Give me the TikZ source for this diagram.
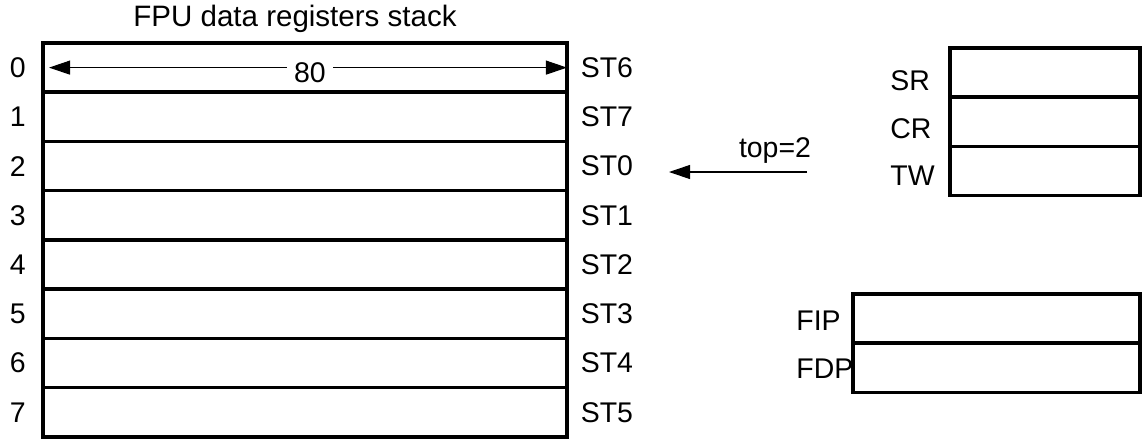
\documentclass[tikz,border=0pt]{standalone}
\usepackage{fontspec}
\setmainfont{Liberation Sans}
\usetikzlibrary{positioning, arrows.meta}

\begin{document}
\begin{tikzpicture}[x=0.02cm, y=-0.02cm,
		>={Triangle[length=0.42cm, width=0.28cm]},
		regbox/.style={draw, line width=2pt, minimum width=#1, minimum height=0.985cm, inner sep=0pt, outer sep=0pt},
		lbl/.style={inner sep=0pt, font=\fontsize{16.2}{18}\selectfont},
		thin/.style={line width=0.6pt}]
		\useasboundingbox (0,0) rectangle (1146,444);
		
		% Define the nodes
		\node (title) [inner sep=0pt, font=\fontsize{16.8}{20}\selectfont] at (295,19) {FPU data registers stack};
		
		\node (r0) [regbox=10.48cm] at (305,67.6) {};
		\foreach \i [remember=\i as \j (initially 0)] in {1,...,7}
			\node (r\i) [regbox=10.48cm, below=0pt of r\j] {};
		\foreach \i/\st in {0/ST6,1/ST7,2/ST0,3/ST1,4/ST2,5/ST3,6/ST4,7/ST5}{
			\node (n\i) [lbl, left=0.34cm of r\i] {\i};
			\node (st\i) [lbl, right=0.27cm of r\i] {\st};
		}
		
		\node (sr) [regbox=3.8cm] at (1045,72.6) {};
		\node (cr) [regbox=3.8cm, below=0pt of sr] {};
		\node (tw) [regbox=3.8cm, below=0pt of cr] {};
		\node (srname) [lbl, anchor=west] at (890,81) {SR};
		\node (crname) [lbl, anchor=west] at (890,129) {CR};
		\node (twname) [lbl, anchor=west] at (890,176) {TW};
		
		\node (fip) [regbox=5.74cm] at (996.5,318.5) {};
		\node (fdp) [regbox=5.74cm, below=0pt of fip] {};
		\node (fipname) [lbl, anchor=west] at (796,321) {FIP};
		\node (fdpname) [lbl, anchor=west] at (796,369) {FDP};
		
		\coordinate (topfrom) at (807,172);
		\coordinate (topto) at (669,172);
		\node (topname) [lbl] at (775,151) {top=2};
		
		% Connect the nodes with arrows
		\draw[thin, <->] ([xshift=0.12cm]r0.west) -- (r0.east)
			node (bits) [lbl, midway, fill=white, inner xsep=0.14cm, xshift=0.04cm, yshift=-0.1cm] {80};
		\draw[thin, ->] (topfrom) -- (topto);
	\end{tikzpicture}
\end{document}
